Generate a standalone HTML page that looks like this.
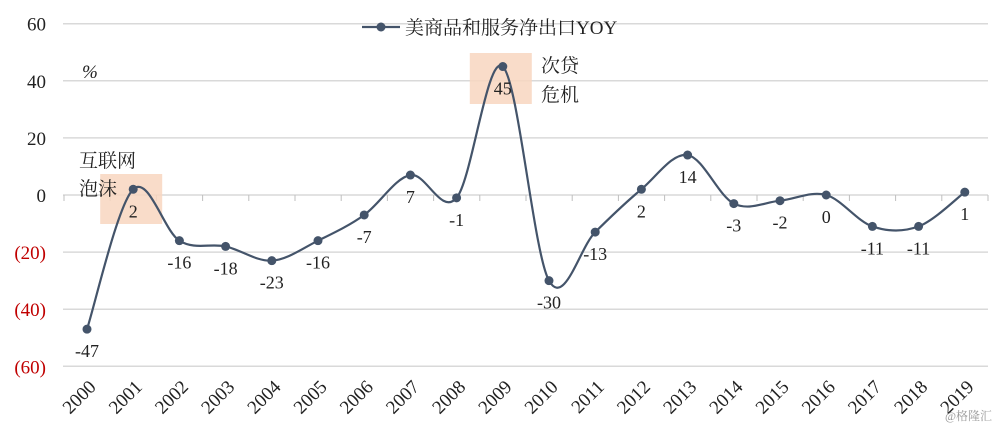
<!DOCTYPE html>
<html><head><meta charset="utf-8"><style>
body{margin:0;background:#fff}
svg text{font-family:"Liberation Serif","Noto Serif CJK SC",serif}
</style></head><body>
<svg id="c" width="1000" height="432"></svg>
<script>
const years=["2000","2001","2002","2003","2004","2005","2006","2007","2008","2009","2010","2011","2012","2013","2014","2015","2016","2017","2018","2019"];
const values=[-47,2,-16,-18,-23,-16,-7,7,-1,45,-30,-13,2,14,-3,-2,0,-11,-11,1];
const yTicks=[60,40,20,0,-20,-40,-60];
const yTickLabels=["60","40","20","0","(20)","(40)","(60)"];
const svg=document.getElementById('c');
const NS='http://www.w3.org/2000/svg';
const x=i=>87+i*46.2;
const y=v=>195-v*2.855;
function el(t,a,txt){const e=document.createElementNS(NS,t);for(const k in a)e.setAttribute(k,a[k]);if(txt!==undefined)e.textContent=txt;svg.appendChild(e);return e;}
yTicks.forEach((v,i)=>{
 const g=el('line',{x1:63,x2:988,y1:y(v),y2:y(v),stroke:'#d9d9d9','stroke-width':1.5});
 
 
 const t=el('text',{x:46,y:y(v)+7,'text-anchor':'end','font-size':19,fill:v<0?'#c00000':'#222'},yTickLabels[i]);
 
 
});
for(let i=0;i<=years.length;i++){
 const tk=el('line',{x1:x(i)-23,x2:x(i)-23,y1:y(0),y2:y(0)+6,stroke:'#bfbfbf','stroke-width':1});
 
 
}
const b1=el('rect',{x:x(1)-33,y:y(0)-21,width:62,height:50,fill:'#f8d6c0',opacity:0.85});


const b2=el('rect',{x:x(9)-33,y:53,width:62,height:51,fill:'#f8d6c0',opacity:0.85});


const P=values.map((v,i)=>[x(i),y(v)]);
let d=`M${P[0][0]},${P[0][1]}`;
for(let i=0;i<P.length-1;i++){
 const p0=P[Math.max(0,i-1)],p1=P[i],p2=P[i+1],p3=P[Math.min(P.length-1,i+2)];
 const c1=[p1[0]+(p2[0]-p0[0])/6,p1[1]+(p2[1]-p0[1])/6];
 const c2=[p2[0]-(p3[0]-p1[0])/6,p2[1]-(p3[1]-p1[1])/6];
 d+=` C${c1[0]},${c1[1]} ${c2[0]},${c2[1]} ${p2[0]},${p2[1]}`;
}
const ln=el('path',{d:d,fill:'none',stroke:'#44546a','stroke-width':2.2});


values.forEach((v,i)=>{
 const c=el('circle',{cx:x(i),cy:y(v),r:4.5,fill:'#44546a'});
 
 
 const t=el('text',{x:x(i),y:y(v)+28,'text-anchor':'middle','font-size':18,fill:'#222'},String(v));
 
 
 const xl=el('text',{x:x(i)+10,y:388,'text-anchor':'end','font-size':19,fill:'#222',transform:`rotate(-45 ${x(i)+10} 388)`},years[i]);
 
 
});
const lg1=el('line',{x1:362,x2:400,y1:27,y2:27,stroke:'#44546a','stroke-width':2.2});


const lg2=el('circle',{cx:381,cy:27,r:4.5,fill:'#44546a'});


const lg3=el('text',{x:405,y:34,'font-size':19,fill:'#222'},'美商品和服务净出口YOY');


[['%',82,78,'unit-label'],['互联网',79,167,'dotcom-annotation'],['泡沫',79,195,'dotcom-annotation'],['次贷',541,72,'subprime-annotation'],['危机',541,101,'subprime-annotation'],['@格隆汇',945,420,'watermark']].forEach(a=>{
 const t=el('text',{x:a[1],y:a[2],'font-size':a[3]=='watermark'?12:19,fill:a[3]=='watermark'?'#999':'#222','font-style':a[0]=='%'?'italic':'normal'},a[0]);
 
 
});
</script>
</body></html>
